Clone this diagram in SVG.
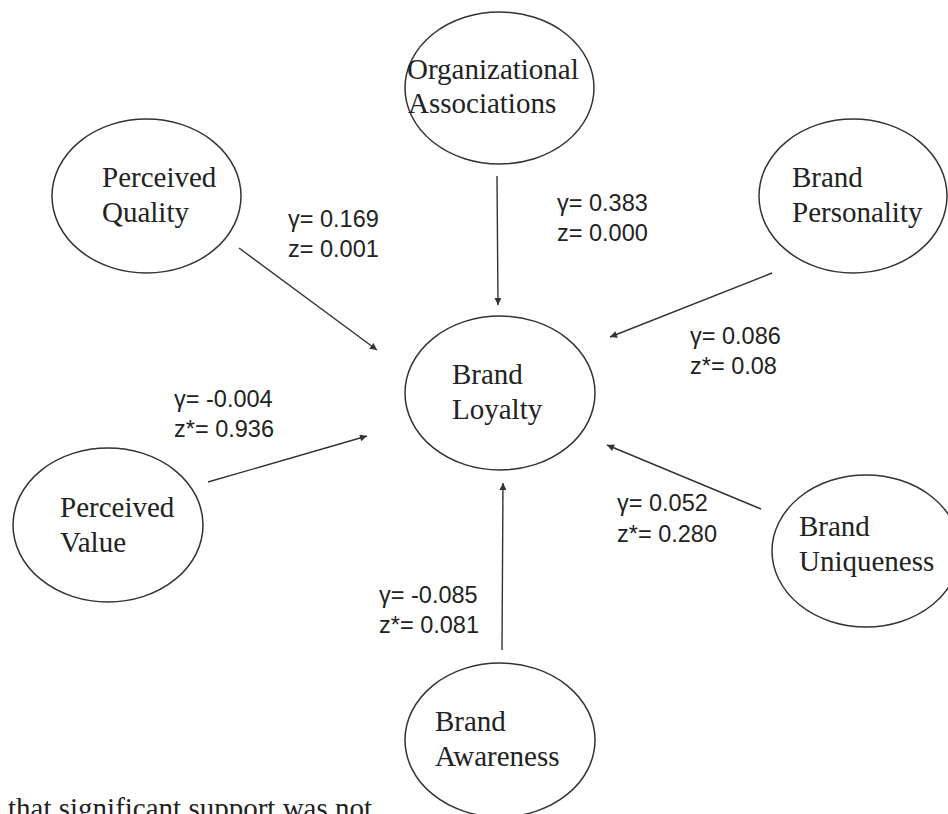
<svg xmlns="http://www.w3.org/2000/svg" width="948" height="814" viewBox="0 0 948 814">
<style>
.node ellipse{fill:#fff;stroke:#333;stroke-width:1.5}
.node text{font-family:"Liberation Serif","Times New Roman",serif;font-size:29px;fill:#222}
.lbl{font-family:"Liberation Sans",Arial,sans-serif;font-size:23.5px;fill:#222}
.edge{stroke:#333;stroke-width:1.4;fill:none;marker-end:url(#arr)}
.note{font-family:"Liberation Serif","Times New Roman",serif;font-size:29px;fill:#222}
</style>
<defs>
<marker id="arr" viewBox="0 0 10 10" refX="10" refY="5" markerWidth="9" markerHeight="7" markerUnits="userSpaceOnUse" orient="auto">
<path d="M0,0 L10,5 L0,10 z" fill="#333"/>
</marker>
</defs>
<rect width="948" height="814" fill="#fff"/>
<g id="connectors">
<line class="edge" x1="239" y1="248" x2="377" y2="350"/>
<line class="edge" x1="497" y1="176" x2="498" y2="305"/>
<line class="edge" x1="772" y1="273" x2="610" y2="337"/>
<line class="edge" x1="208" y1="482" x2="367" y2="436"/>
<line class="edge" x1="761" y1="509" x2="607" y2="445"/>
<line class="edge" x1="502" y1="650" x2="503" y2="483"/>
</g>
<g id="labels">
<text class="lbl" x="288" y="227">γ= 0.169</text>
<text class="lbl" x="288" y="257">z= 0.001</text>
<text class="lbl" x="557" y="211">γ= 0.383</text>
<text class="lbl" x="557" y="241">z= 0.000</text>
<text class="lbl" x="690" y="344">γ= 0.086</text>
<text class="lbl" x="690" y="374">z*= 0.08</text>
<text class="lbl" x="174" y="407">γ= -0.004</text>
<text class="lbl" x="174" y="437">z*= 0.936</text>
<text class="lbl" x="617" y="511">γ= 0.052</text>
<text class="lbl" x="617" y="542">z*= 0.280</text>
<text class="lbl" x="379" y="603">γ= -0.085</text>
<text class="lbl" x="379" y="633">z*= 0.081</text>
</g>
<g id="node-org" class="node">
<ellipse cx="499.5" cy="88" rx="94.5" ry="76"/>
<text x="407" y="79">Organizational</text>
<text x="408" y="113">Associations</text>
</g>
<g id="node-pq" class="node">
<ellipse cx="146.5" cy="196" rx="94.5" ry="77"/>
<text x="102" y="187">Perceived</text>
<text x="102" y="222">Quality</text>
</g>
<g id="node-bp" class="node">
<ellipse cx="853" cy="196" rx="94" ry="77"/>
<text x="792" y="187">Brand</text>
<text x="792" y="222">Personality</text>
</g>
<g id="node-bl" class="node">
<ellipse cx="500" cy="393" rx="95" ry="77"/>
<text x="452" y="384">Brand</text>
<text x="452" y="419">Loyalty</text>
</g>
<g id="node-pv" class="node">
<ellipse cx="108" cy="525" rx="95" ry="77"/>
<text x="60" y="517">Perceived</text>
<text x="60" y="552">Value</text>
</g>
<g id="node-bu" class="node">
<ellipse cx="866" cy="551" rx="94" ry="76"/>
<text x="799" y="536">Brand</text>
<text x="799" y="571">Uniqueness</text>
</g>
<g id="node-ba" class="node">
<ellipse cx="500" cy="740" rx="95" ry="77"/>
<text x="435" y="731">Brand</text>
<text x="435" y="766">Awareness</text>
</g>
<text class="note" x="8" y="818">that significant support was not</text>
</svg>
